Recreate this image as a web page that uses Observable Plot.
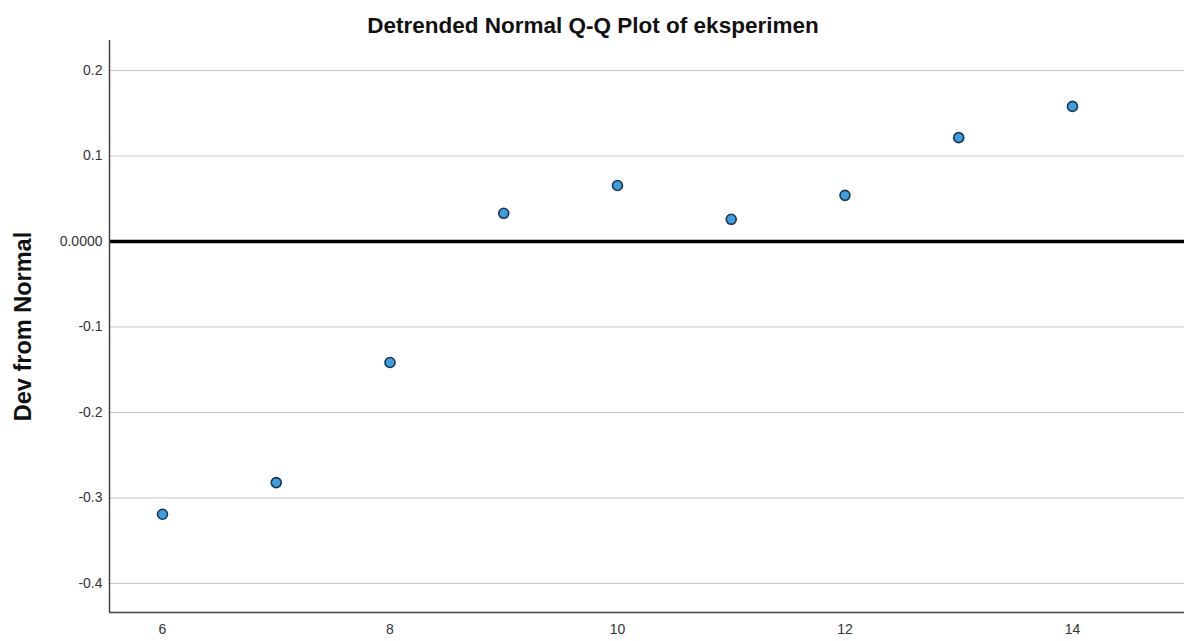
<!DOCTYPE html>
<html>
<head>
<meta charset="utf-8">
<script src="https://cdn.jsdelivr.net/npm/d3@7"></script>
<script src="https://cdn.jsdelivr.net/npm/@observablehq/plot@0.6"></script>
<style>
  body { margin: 0; background: #fff; font-family: "Liberation Sans", Arial, sans-serif; }
  #title { height: 40px; line-height: 52px; text-align: center; font-weight: bold; font-size: 22.5px; color: #111; overflow: visible; }
</style>
</head>
<body>
<div id="title">Detrended Normal Q-Q Plot of eksperimen</div>
<div id="chart"></div>
<script>
const observedValues = [6, 7, 8, 9, 10, 11, 12, 13, 14];
const devFromNormal = [-0.319, -0.282, -0.1415, 0.033, 0.0655, 0.026, 0.054, 0.1215, 0.158];
const yTicks = [0.2, 0.1, 0, -0.1, -0.2, -0.3, -0.4];
const xTicks = [6, 8, 10, 12, 14];

const data = observedValues.map((x, i) => ({x, y: devFromNormal[i]}));

const chart = Plot.plot({
  width: 1186,
  height: 601,
  marginLeft: 109,
  marginRight: 2,
  marginTop: 0,
  marginBottom: 29,
  style: { fontFamily: "Liberation Sans, Arial, sans-serif", fontSize: "14px", color: "#444", background: "#fff", overflow: "visible" },
  x: { domain: [5.534, 14.985], ticks: xTicks },
  y: { domain: [-0.4339, 0.2351], ticks: yTicks },
  marks: [
    Plot.ruleY(yTicks.filter(d => d !== 0), { stroke: "#c8c8c8", strokeWidth: 1.2 }),
    Plot.ruleY([0], { stroke: "#000", strokeWidth: 3.5 }),
    Plot.axisX({ ticks: xTicks, tickSize: 0, tickPadding: 12, label: null, fill: "#333" }),
    Plot.axisY({ ticks: yTicks, tickSize: 0, tickPadding: 7, fill: "#333",
      tickFormat: d => d === 0 ? "0.0000" : d.toFixed(1),
      label: "Dev from Normal", labelAnchor: "center", labelArrow: "none", labelOffset: 95 }),
    Plot.ruleX([5.534], { stroke: "#444", strokeWidth: 1.5 }),
    Plot.ruleY([-0.4339], { stroke: "#444", strokeWidth: 1.5 }),
    Plot.dot(data, { x: "x", y: "y", r: 5, fill: "#3c9fe0", stroke: "#1b3550", strokeWidth: 1.6 })
  ]
});
document.getElementById("chart").appendChild(chart);
// style y-axis label
chart.querySelectorAll("g[aria-label='y-axis label'] text").forEach(t => {
  t.setAttribute("font-weight", "bold");
  t.setAttribute("font-size", "23.5px");
  t.setAttribute("fill", "#111");
});
</script>
</body>
</html>
